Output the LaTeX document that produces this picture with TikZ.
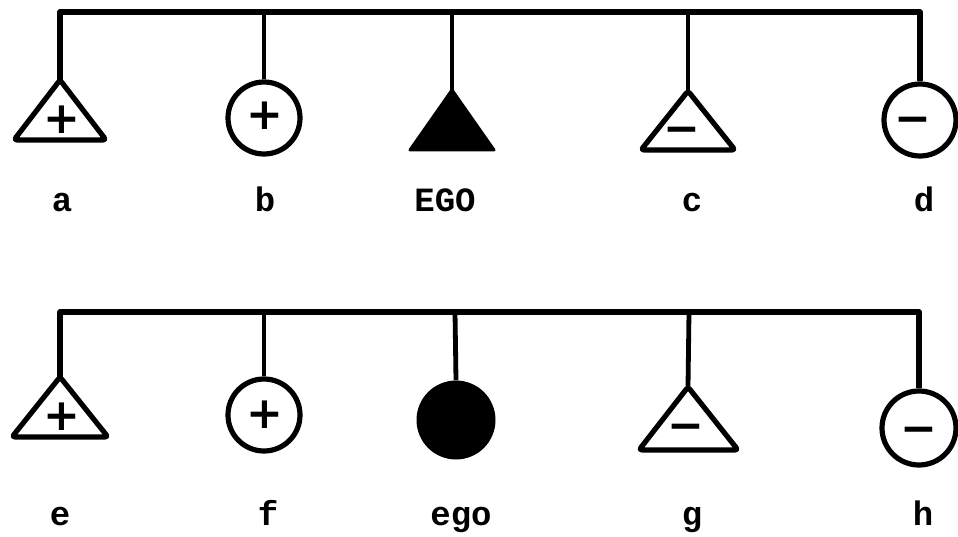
\documentclass[tikz,border=0pt]{standalone}
\usepackage{fontspec}
\newfontfamily\labfamily{Liberation Mono}
\newfontfamily\signfamily{DejaVu Sans}
\begin{document}
\begin{tikzpicture}[x=1pt,y=-1pt,
  kinline/.style={line width=5.4pt, line join=round},
  dropline/.style={line width=4.8pt},
  male/.style={draw, line width=5.2pt, line join=round, rounded corners=3pt},
  maleego/.style={draw, fill, line width=3pt, line join=round},
  female/.style={circle, draw, line width=5.2pt, minimum size=72pt, inner sep=0pt},
  femaleego/.style={circle, fill, minimum size=79pt, inner sep=0pt},
  sign/.style={font=\signfamily\bfseries\fontsize{44}{44}\selectfont, anchor=base, inner sep=0pt, yshift=-15.4pt},
  lab/.style={font=\labfamily\bfseries\fontsize{34}{34}\selectfont, anchor=base, inner sep=0pt}]
\useasboundingbox (0,0) rectangle (958,537);

% ---- first sibling set ----
\coordinate (a) at (60,80);
\node[female] (b) at (264,118) {};
\coordinate (EGO) at (452,90);
\coordinate (c) at (688,91);
\node[female] (d) at (920,120) {};
\coordinate (dtop) at (920,12);
\coordinate (btop) at (264,12);
\coordinate (EGOtop) at (452,12);
\coordinate (ctop) at (688,12);

\draw[kinline] (a) |- (dtop) -- (d.north);
\draw[dropline] (btop) -- (b.north);
\draw[dropline] (EGOtop) -- (EGO);
\draw[dropline] (ctop) -- (c);

\draw[male] (a) -- ++(46,60) -- ++(-92,0) -- cycle;
\path[maleego] (EGO) -- ++(42,60) -- ++(-84,0) -- cycle;
\draw[male] (c) -- ++(47,59) -- ++(-94,0) -- cycle;

\node[sign] (asign) at (62,118) {+};
\node[sign] (bsign) at (265,114) {+};
\node[sign] (csign) at (682,128) {−};
\node[sign] (dsign) at (913,118) {−};

\node[lab] (alab) at (62,212) {a};
\node[lab] (blab) at (265,212) {b};
\node[lab] (EGOlab) at (445,212) {EGO};
\node[lab] (clab) at (692,212) {c};
\node[lab] (dlab) at (924,212) {d};

% ---- second sibling set ----
\coordinate (e) at (60,377);
\node[female] (f) at (264,415) {};
\node[femaleego] (ego) at (456,420) {};
\coordinate (g) at (688,387);
\node[female, minimum size=74pt] (h) at (919,428) {};
\coordinate (htop) at (919,312);
\coordinate (ftop) at (264,312);
\coordinate (egotop) at (455,312);
\coordinate (gtop) at (689,312);

\draw[kinline] (e) |- (htop) -- (h.north);
\draw[dropline] (ftop) -- (f.north);
\draw[dropline] (egotop) -- (ego.north);
\draw[dropline] (gtop) -- (g);

\draw[male] (e) -- ++(48,60) -- ++(-96,0) -- cycle;
\draw[male] (g) -- ++(50,63) -- ++(-99,0) -- cycle;

\node[sign] (esign) at (62,415) {+};
\node[sign] (fsign) at (265,413) {+};
\node[sign] (gsign) at (686,425) {−};
\node[sign] (hsign) at (919,428) {−};

\node[lab] (elab) at (60,525) {e};
\node[lab] (flab) at (268,525) {f};
\node[lab] (egolab) at (461,525) {ego};
\node[lab] (glab) at (692,525) {g};
\node[lab] (hlab) at (923,525) {h};
\end{tikzpicture}
\end{document}
